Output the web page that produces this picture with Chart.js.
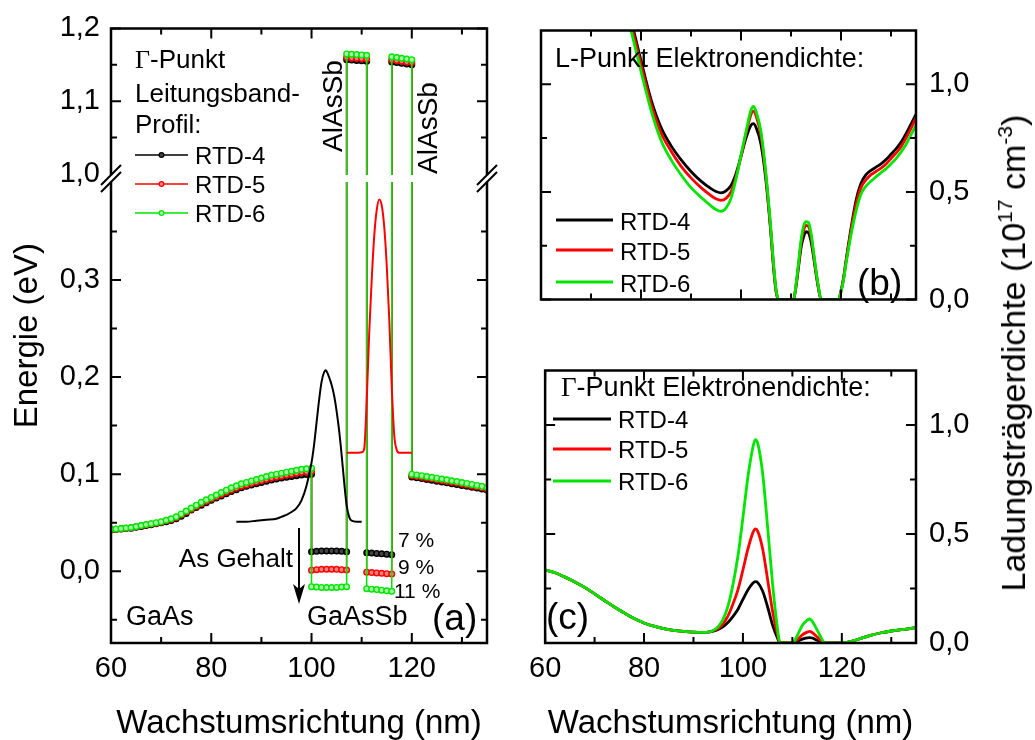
<!DOCTYPE html>
<html>
<head>
<meta charset="utf-8">
<script src="https://cdn.jsdelivr.net/npm/chart.js@4.4.1/dist/chart.umd.min.js"></script>
<style>
  html, body { margin: 0; padding: 0; background: #fff; }
  #wrap { position: relative; width: 1035px; height: 740px; overflow: hidden; font-family: 'Liberation Sans', Arial, sans-serif; }
  canvas { position: absolute; }
  #chartA { left: 0; top: 0; }
  #chartB { left: 520px; top: 0; }
  #chartC { left: 520px; top: 340px; }
  #yTitleRight {
    position: absolute; left: 1013px; top: 353px;
    transform: translate(-50%, -50%) rotate(-90deg);
    font-size: 34px; line-height: 1; white-space: nowrap; color: #000;
  }
  #yTitleRight sup { font-size: 0.62em; vertical-align: 0.62em; line-height: 0; }
</style>
</head>
<body>
<div id="wrap">
  <canvas id="chartA" width="520" height="740"></canvas>
  <canvas id="chartB" width="480" height="330"></canvas>
  <canvas id="chartC" width="480" height="400"></canvas>
  <div id="yTitleRight">Ladungsträgerdichte (10<sup>17</sup> cm<sup>-3</sup>)</div>
</div>
<script>
const FONT = "'Liberation Sans', Arial, sans-serif";
const SERIF = "'Liberation Serif', 'Times New Roman', serif";
const COLORS = { rtd4: '#000000', rtd5: '#ff0000', rtd6: '#00e600' };
const SERIES = ['RTD-4', 'RTD-5', 'RTD-6'];

// axis ticks
const xTicks = [60, 70, 80, 90, 100, 110, 120, 130];
const xTickLabels = [60, 80, 100, 120];
const energyTicks = [-0.05, 0, 0.05, 0.1, 0.15, 0.2, 0.25, 0.3, 0.35, 1.0, 1.05, 1.1, 1.15, 1.2];
const energyTickLabels = [0, 0.1, 0.2, 0.3, 1.0, 1.1, 1.2];
const densityTicks = [0, 0.25, 0.5, 0.75, 1.0];
const densityTickLabels = [0, 0.5, 1.0];

// (a) conduction band profile: GaAs | GaAsSb | AlAsSb | GaAsSb | AlAsSb | GaAs
const gaasLeftX = [60, 61, 62, 63, 64, 65, 66, 67, 68, 69, 70, 71, 72, 73, 74, 75, 76, 77, 78, 79, 80,
  81, 82, 83, 84, 85, 86, 87, 88, 89, 90, 91, 92, 93, 94, 95, 96, 97, 98, 99, 100];
const rtd4GaasLeft = [0.0425, 0.0430, 0.0434, 0.0439, 0.0443, 0.0452, 0.0461, 0.0470, 0.0479, 0.0488,
  0.0498, 0.0510, 0.0523, 0.0540, 0.0567, 0.0595, 0.0630, 0.0655, 0.0680, 0.0705,
  0.0730, 0.0753, 0.0775, 0.0798, 0.0820, 0.0840, 0.0860, 0.0874, 0.0887, 0.0901,
  0.0914, 0.0928, 0.0940, 0.0950, 0.0960, 0.0968, 0.0976, 0.0984, 0.0992, 0.0996, 0.1000];
const rtd5GaasLeft = [0.0428, 0.0433, 0.0438, 0.0443, 0.0448, 0.0457, 0.0467, 0.0476, 0.0486, 0.0495,
  0.0505, 0.0519, 0.0533, 0.0552, 0.0580, 0.0610, 0.0638, 0.0667, 0.0695, 0.0720,
  0.0743, 0.0767, 0.0790, 0.0814, 0.0837, 0.0856, 0.0875, 0.0889, 0.0905, 0.0919,
  0.0933, 0.0947, 0.0960, 0.0970, 0.0980, 0.0990, 0.1000, 0.1010, 0.1020, 0.1025, 0.1030];
const rtd6GaasLeft = [0.0430, 0.0435, 0.0440, 0.0445, 0.0450, 0.0460, 0.0470, 0.0480, 0.0490, 0.0500,
  0.0510, 0.0525, 0.0540, 0.0560, 0.0590, 0.0620, 0.0650, 0.0680, 0.0710, 0.0735,
  0.0760, 0.0785, 0.0810, 0.0835, 0.0860, 0.0880, 0.0900, 0.0915, 0.0930, 0.0945,
  0.0960, 0.0975, 0.0990, 0.1000, 0.1010, 0.1020, 0.1030, 0.1040, 0.1050, 0.1055, 0.1060];

const well1X = [100, 101, 102, 103, 104, 105, 106, 107];
const rtd4Well1 = [0.0200, 0.0205, 0.0208, 0.0209, 0.0209, 0.0208, 0.0205, 0.0200];
const rtd5Well1 = [0.0010, 0.0016, 0.0019, 0.0020, 0.0020, 0.0019, 0.0016, 0.0012];
const rtd6Well1 = [-0.0160, -0.0164, -0.0167, -0.0168, -0.0168, -0.0167, -0.0164, -0.0160];

const barrier1X = [107, 108, 109, 110, 111];
const rtd4Barrier1 = [1.157, 1.1565, 1.156, 1.1555, 1.155];
const rtd5Barrier1 = [1.160, 1.1595, 1.159, 1.1585, 1.158];
const rtd6Barrier1 = [1.165, 1.1645, 1.164, 1.1635, 1.163];

const well2X = [111, 112, 113, 114, 115, 116];
const rtd4Well2 = [0.0190, 0.0187, 0.0183, 0.0179, 0.0175, 0.0170];
const rtd5Well2 = [-0.0010, -0.0014, -0.0018, -0.0022, -0.0026, -0.0030];
const rtd6Well2 = [-0.0180, -0.0185, -0.0190, -0.0196, -0.0202, -0.0208];

const barrier2X = [116, 117, 118, 119, 120];
const rtd4Barrier2 = [1.154, 1.153, 1.152, 1.151, 1.150];
const rtd5Barrier2 = [1.157, 1.156, 1.155, 1.154, 1.153];
const rtd6Barrier2 = [1.161, 1.160, 1.159, 1.158, 1.157];

const gaasRightX = [120, 121, 122, 123, 124, 125, 126, 127, 128, 129, 130, 131, 132, 133, 134, 135];
const rtd4GaasRight = [0.0970, 0.0962, 0.0954, 0.0945, 0.0937, 0.0928, 0.0920, 0.0911, 0.0902, 0.0893,
  0.0884, 0.0875, 0.0866, 0.0856, 0.0846, 0.0836];
const rtd5GaasRight = [0.0985, 0.0977, 0.0969, 0.0960, 0.0952, 0.0943, 0.0935, 0.0926, 0.0917, 0.0908,
  0.0898, 0.0889, 0.0879, 0.0869, 0.0859, 0.0848];
const rtd6GaasRight = [0.1000, 0.0992, 0.0984, 0.0975, 0.0967, 0.0958, 0.0950, 0.0941, 0.0932, 0.0923,
  0.0913, 0.0904, 0.0894, 0.0884, 0.0874, 0.0863];

// (a) bound state densities drawn on the energy scale
const psi4X = [85, 87, 89, 91, 93, 94, 95, 96, 97, 98, 99, 100, 100.5, 101, 101.5, 102, 102.5, 102.8,
  103, 103.5, 104, 104.5, 105, 105.5, 106, 106.5, 107, 107.5, 108, 109, 110];
const psi4Y = [0.051, 0.051, 0.052, 0.053, 0.054, 0.056, 0.058, 0.061, 0.065, 0.073, 0.088, 0.112, 0.130,
  0.153, 0.176, 0.195, 0.205, 0.207, 0.206, 0.200, 0.192, 0.181, 0.165, 0.145, 0.120, 0.092, 0.068,
  0.056, 0.052, 0.051, 0.051];
const psi5X = [107, 108, 109, 110, 110.5, 111, 111.5, 112, 112.5, 113, 113.5, 114, 114.5, 115, 115.5,
  116, 116.5, 117, 117.5, 118, 119, 120];
const psi5Y = [0.122, 0.122, 0.122, 0.1225, 0.126, 0.175, 0.245, 0.300, 0.345, 0.372, 0.383, 0.377,
  0.355, 0.315, 0.260, 0.190, 0.140, 0.125, 0.122, 0.122, 0.122, 0.122];

// (b) L-point electron density
const lPointX = [70, 72, 74, 76, 78, 80, 82, 84, 86, 88, 90, 92, 94, 95, 96, 97, 98, 99, 100, 101,
  102, 102.5, 103, 104, 105, 106, 106.5, 107, 107.5, 108, 109, 110, 110.5, 111, 111.5, 112, 112.5, 113,
  113.5, 114, 114.5, 115, 115.5, 116, 117, 118, 119, 119.5, 120, 120.5, 121, 122, 123, 124, 125, 126,
  127, 128, 129, 130, 131, 132, 133, 134, 135];
const rtd4LPoint = [2.20, 1.95, 1.72, 1.50, 1.30, 1.11, 0.93, 0.80, 0.715, 0.65, 0.595, 0.55, 0.515,
  0.502, 0.496, 0.505, 0.53, 0.585, 0.665, 0.75, 0.81, 0.817, 0.80, 0.72, 0.55, 0.30, 0.15, 0.04, 0, 0,
  0, 0, 0, 0.06, 0.15, 0.24, 0.29, 0.315, 0.31, 0.27, 0.20, 0.12, 0.05, 0, 0, 0, 0, 0, 0.04, 0.10, 0.18,
  0.33, 0.46, 0.54, 0.58, 0.60, 0.615, 0.63, 0.65, 0.675, 0.70, 0.73, 0.77, 0.815, 0.86];
const rtd5LPoint = [2.18, 1.93, 1.70, 1.48, 1.28, 1.09, 0.91, 0.775, 0.69, 0.62, 0.565, 0.52, 0.483,
  0.468, 0.461, 0.47, 0.50, 0.57, 0.665, 0.77, 0.86, 0.875, 0.855, 0.76, 0.57, 0.31, 0.16, 0.045, 0, 0,
  0, 0, 0, 0.065, 0.16, 0.26, 0.32, 0.345, 0.34, 0.295, 0.215, 0.13, 0.055, 0, 0, 0, 0, 0, 0.04, 0.095,
  0.175, 0.32, 0.44, 0.52, 0.556, 0.58, 0.595, 0.61, 0.63, 0.655, 0.68, 0.71, 0.75, 0.795, 0.845];
const rtd6LPoint = [2.15, 1.90, 1.67, 1.45, 1.25, 1.06, 0.88, 0.74, 0.65, 0.58, 0.52, 0.475, 0.435,
  0.418, 0.41, 0.425, 0.47, 0.56, 0.67, 0.78, 0.88, 0.897, 0.875, 0.78, 0.58, 0.32, 0.17, 0.05, 0, 0,
  0, 0, 0, 0.07, 0.17, 0.275, 0.34, 0.362, 0.358, 0.31, 0.225, 0.135, 0.06, 0, 0, 0, 0, 0, 0.035, 0.09,
  0.165, 0.30, 0.41, 0.49, 0.527, 0.55, 0.57, 0.59, 0.607, 0.63, 0.655, 0.685, 0.72, 0.765, 0.81];

// (c) Gamma-point electron density
const gammaX = [60, 62, 64, 66, 68, 70, 72, 74, 76, 78, 80, 82, 84, 86, 88, 90, 92, 93, 94, 95, 96, 97,
  98, 99, 100, 101, 102, 102.5, 103, 104, 105, 106, 107, 107.5, 108, 109, 110, 110.5, 111, 112, 113,
  113.5, 114, 115, 116, 116.5, 118, 119.5, 120, 121, 122, 123, 124, 126, 128, 130, 132, 134, 135];
const rtd4Gamma = [0.335, 0.322, 0.302, 0.280, 0.255, 0.225, 0.195, 0.165, 0.138, 0.112, 0.092, 0.077,
  0.066, 0.058, 0.053, 0.050, 0.049, 0.050, 0.054, 0.062, 0.075, 0.095, 0.122, 0.155, 0.200, 0.243,
  0.274, 0.281, 0.277, 0.237, 0.165, 0.082, 0.022, 0, 0, 0, 0, 0.003, 0.008, 0.018, 0.024, 0.025,
  0.023, 0.013, 0.003, 0, 0, 0, 0, 0.003, 0.008, 0.015, 0.022, 0.036, 0.047, 0.055, 0.061, 0.067, 0.071];
const rtd5Gamma = [0.335, 0.322, 0.302, 0.280, 0.255, 0.225, 0.195, 0.165, 0.138, 0.112, 0.092, 0.077,
  0.066, 0.058, 0.053, 0.050, 0.049, 0.050, 0.056, 0.067, 0.088, 0.125, 0.180, 0.245, 0.335, 0.430,
  0.505, 0.523, 0.512, 0.430, 0.290, 0.145, 0.038, 0, 0, 0, 0, 0.005, 0.015, 0.037, 0.050, 0.053,
  0.048, 0.028, 0.006, 0, 0, 0, 0, 0.003, 0.008, 0.015, 0.022, 0.036, 0.047, 0.055, 0.061, 0.067, 0.071];
const rtd6Gamma = [0.335, 0.322, 0.302, 0.280, 0.255, 0.225, 0.195, 0.165, 0.138, 0.112, 0.092, 0.077,
  0.066, 0.058, 0.053, 0.050, 0.049, 0.050, 0.058, 0.075, 0.110, 0.170, 0.270, 0.400, 0.575, 0.760,
  0.895, 0.933, 0.915, 0.775, 0.530, 0.270, 0.065, 0, 0, 0, 0, 0.012, 0.035, 0.080, 0.105, 0.110,
  0.100, 0.060, 0.016, 0, 0, 0, 0, 0.003, 0.008, 0.015, 0.022, 0.036, 0.047, 0.055, 0.061, 0.067, 0.071];

const toPoints = (xs, ys) => xs.map((x, i) => ({ x: x, y: ys[i] }));
const joinSections = parts => parts.flatMap(([xs, ys]) => toPoints(xs, ys));
const deComma = v => v.toFixed(1).replace('.', ',');
const hasTick = (list, v) => list.some(t => Math.abs(t - v) < 1e-9);

const profile4 = joinSections([[gaasLeftX, rtd4GaasLeft], [well1X, rtd4Well1], [barrier1X, rtd4Barrier1],
  [well2X, rtd4Well2], [barrier2X, rtd4Barrier2], [gaasRightX, rtd4GaasRight]]);
const profile5 = joinSections([[gaasLeftX, rtd5GaasLeft], [well1X, rtd5Well1], [barrier1X, rtd5Barrier1],
  [well2X, rtd5Well2], [barrier2X, rtd5Barrier2], [gaasRightX, rtd5GaasRight]]);
const profile6 = joinSections([[gaasLeftX, rtd6GaasLeft], [well1X, rtd6Well1], [barrier1X, rtd6Barrier1],
  [well2X, rtd6Well2], [barrier2X, rtd6Barrier2], [gaasRightX, rtd6GaasRight]]);

// linear scale with a jump between breakRange[0] and breakRange[1]
class BrokenLinearScale extends Chart.LinearScale {
  getPixelForValue(value) {
    if (value === null || value === undefined || isNaN(value)) return NaN;
    const [lo, hi] = this.options.breakRange;
    const [lowPx, gapPx] = this.options.breakPixels;
    const yLo = this.bottom - lowPx;
    const yHi = yLo - gapPx;
    if (value <= lo) return this.bottom - (value - this.min) / (lo - this.min) * lowPx;
    if (value >= hi) return yHi - (value - hi) / (this.max - hi) * (yHi - this.top);
    return yLo - (value - lo) / (hi - lo) * gapPx;
  }
  getValueForPixel(pixel) {
    const [lo, hi] = this.options.breakRange;
    const [lowPx, gapPx] = this.options.breakPixels;
    const yLo = this.bottom - lowPx;
    const yHi = yLo - gapPx;
    if (pixel >= yLo) return this.min + (this.bottom - pixel) / lowPx * (lo - this.min);
    if (pixel <= yHi) return hi + (yHi - pixel) / (yHi - this.top) * (this.max - hi);
    return lo + (yLo - pixel) / gapPx * (hi - lo);
  }
}
BrokenLinearScale.id = 'brokenLinear';
BrokenLinearScale.defaults = Chart.LinearScale.defaults;
Chart.register(BrokenLinearScale);

// box with inward ticks on all four sides (and the axis break marks)
const framePlugin = {
  id: 'frame',
  afterDatasetsDraw(chart, args, opts) {
    const { ctx, chartArea: a } = chart;
    const x = chart.scales.x, y = chart.scales.y;
    ctx.save();
    ctx.strokeStyle = '#000';
    let gapTop = null, gapBot = null;
    if (opts.breakAt) {
      gapTop = y.getPixelForValue(opts.breakAt[1]);
      gapBot = y.getPixelForValue(opts.breakAt[0]);
      ctx.fillStyle = '#fff';
      ctx.fillRect(a.left - 3, gapTop + 1, a.right - a.left + 6, gapBot - gapTop - 2);
    }
    ctx.lineWidth = 2;
    ctx.beginPath();
    x.ticks.forEach(t => {
      const px = x.getPixelForValue(t.value);
      const len = hasTick(opts.xMajor, t.value) ? 10 : 6;
      ctx.moveTo(px, a.bottom); ctx.lineTo(px, a.bottom - len);
      ctx.moveTo(px, a.top); ctx.lineTo(px, a.top + len);
    });
    y.ticks.forEach(t => {
      if (opts.breakAt && Math.abs(t.value - opts.breakAt[1]) < 1e-9) return;
      const py = y.getPixelForValue(t.value);
      const len = hasTick(opts.yMajor, t.value) ? 10 : 6;
      ctx.moveTo(a.left, py); ctx.lineTo(a.left + len, py);
      ctx.moveTo(a.right, py); ctx.lineTo(a.right - len, py);
    });
    ctx.stroke();

    ctx.lineWidth = 2.5;
    ctx.lineCap = 'square';
    ctx.beginPath();
    ctx.moveTo(a.left, a.top); ctx.lineTo(a.right, a.top);
    ctx.moveTo(a.left, a.bottom); ctx.lineTo(a.right, a.bottom);
    [a.left, a.right].forEach(px => {
      if (gapTop !== null) {
        ctx.moveTo(px, a.top); ctx.lineTo(px, gapTop);
        ctx.moveTo(px, gapBot); ctx.lineTo(px, a.bottom);
      } else {
        ctx.moveTo(px, a.top); ctx.lineTo(px, a.bottom);
      }
    });
    ctx.stroke();

    if (gapTop !== null) {
      ctx.lineWidth = 2;
      ctx.lineCap = 'butt';
      ctx.beginPath();
      [a.left, a.right].forEach(px => {
        [gapTop + 1, gapBot - 1].forEach(py => {
          ctx.moveTo(px - 10, py + 10); ctx.lineTo(px + 10, py - 10);
        });
      });
      ctx.stroke();
    }
    ctx.restore();
  }
};

function drawText(ctx, str, x, y, size, opt) {
  opt = opt || {};
  ctx.save();
  ctx.font = size + 'px ' + (opt.family || FONT);
  ctx.fillStyle = '#000';
  ctx.textAlign = opt.align || 'left';
  ctx.textBaseline = 'alphabetic';
  ctx.translate(x, y);
  if (opt.rotate) ctx.rotate(opt.rotate);
  ctx.fillText(str, 0, 0);
  const w = ctx.measureText(str).width;
  ctx.restore();
  return w;
}

function gammaHeading(ctx, rest, x, y, size) {
  const w = drawText(ctx, 'Γ', x, y, size, { family: SERIF });
  drawText(ctx, rest, x + w, y, size);
}

function legendRow(ctx, color, x0, x1, yLine, label, yText, lineWidth, marker) {
  ctx.save();
  ctx.strokeStyle = color;
  ctx.lineWidth = lineWidth;
  ctx.beginPath();
  ctx.moveTo(x0, yLine); ctx.lineTo(x1, yLine);
  ctx.stroke();
  if (marker) {
    ctx.fillStyle = marker;
    ctx.lineWidth = 1.2;
    ctx.beginPath();
    ctx.arc((x0 + x1) / 2, yLine, 2.4, 0, Math.PI * 2);
    ctx.fill(); ctx.stroke();
  }
  ctx.restore();
  drawText(ctx, label, x1 + 7, yText, 24);
}

const markerFill = { rtd4: '#444444', rtd5: '#ff8080', rtd6: '#a8ffa8' };

function profileSet(key, data) {
  return {
    data: data, borderColor: COLORS[key], borderWidth: 1.5, tension: 0,
    pointRadius: 2.8, pointBorderWidth: 1.4, pointBorderColor: COLORS[key],
    pointBackgroundColor: markerFill[key], pointHoverRadius: 2.8
  };
}
function curveSet(key, data, width) {
  return {
    data: data, borderColor: COLORS[key], borderWidth: width,
    cubicInterpolationMode: 'monotone', pointRadius: 0, pointHoverRadius: 0
  };
}

const commonOpts = {
  responsive: false, animation: false, devicePixelRatio: 1,
  events: []
};
const tickFont = { family: FONT, size: 29, lineHeight: 1.2 };
const titleFont = { family: FONT, size: 33, lineHeight: 1 };

// (a) band profile
const annotationsA = {
  id: 'annotationsA',
  afterDraw(chart) {
    const ctx = chart.ctx;
    gammaHeading(ctx, '-Punkt', 135, 68, 26);
    drawText(ctx, 'Leitungsband-', 135, 102, 26);
    drawText(ctx, 'Profil:', 135, 133, 26);
    legendRow(ctx, COLORS.rtd4, 135, 188, 155, SERIES[0], 164, 1.5, markerFill.rtd4);
    legendRow(ctx, COLORS.rtd5, 135, 188, 184, SERIES[1], 193, 1.5, markerFill.rtd5);
    legendRow(ctx, COLORS.rtd6, 135, 188, 213, SERIES[2], 222, 1.5, markerFill.rtd6);

    drawText(ctx, 'AlAsSb', 342, 106, 28, { align: 'center', rotate: -Math.PI / 2 });
    drawText(ctx, 'AlAsSb', 437, 128, 28, { align: 'center', rotate: -Math.PI / 2 });

    drawText(ctx, 'GaAs', 126, 625, 27);
    drawText(ctx, 'GaAsSb', 307, 625, 27);
    drawText(ctx, '(a)', 432, 630, 37);
    drawText(ctx, 'As Gehalt', 293, 567, 26, { align: 'right' });
    drawText(ctx, '7 %', 398, 547, 21);
    drawText(ctx, '9 %', 398, 574, 21);
    drawText(ctx, '11 %', 394, 598, 21);

    // arrow for increasing As content
    ctx.save();
    ctx.strokeStyle = '#000';
    ctx.fillStyle = '#000';
    ctx.lineWidth = 2;
    ctx.beginPath();
    ctx.moveTo(299, 528); ctx.lineTo(299, 592);
    ctx.stroke();
    ctx.beginPath();
    ctx.moveTo(299, 604); ctx.lineTo(293, 584); ctx.lineTo(299, 589); ctx.lineTo(305, 584);
    ctx.closePath();
    ctx.fill();
    ctx.restore();
  }
};

new Chart(document.getElementById('chartA'), {
  type: 'line',
  data: {
    datasets: [
      curveSet('rtd4', toPoints(psi4X, psi4Y), 2),
      curveSet('rtd5', toPoints(psi5X, psi5Y), 2),
      profileSet('rtd6', profile6),
      profileSet('rtd5', profile5),
      profileSet('rtd4', profile4)
    ]
  },
  options: Object.assign({}, commonOpts, {
    layout: { padding: { left: 0, top: 25, right: 33, bottom: 0 } },
    plugins: {
      legend: { display: false }, tooltip: { enabled: false },
      frame: { breakAt: [0.40, 1.0], xMajor: xTickLabels, yMajor: energyTickLabels }
    },
    scales: {
      x: {
        type: 'linear', min: 60, max: 135,
        afterBuildTicks: s => { s.ticks = xTicks.map(v => ({ value: v })); },
        afterFit: s => { s.height = 97; },
        grid: { display: false, drawTicks: false }, border: { display: false },
        ticks: { autoSkip: false, maxRotation: 0, padding: 9, color: '#000', font: tickFont,
          callback: v => hasTick(xTickLabels, v) ? String(v) : '' },
        title: { display: true, text: 'Wachstumsrichtung (nm)', color: '#000', font: titleFont, padding: { top: 0, bottom: 0 } }
      },
      y: {
        type: 'brokenLinear', min: -0.074, max: 1.2,
        breakRange: [0.40, 1.0], breakPixels: [460, 9],
        afterBuildTicks: s => { s.ticks = energyTicks.map(v => ({ value: v })); },
        afterFit: s => { s.width = 111; },
        grid: { display: false, drawTicks: false }, border: { display: false },
        ticks: { autoSkip: false, padding: 11, color: '#000', font: tickFont,
          callback: v => hasTick(energyTickLabels, v) ? deComma(v) : '' },
        title: { display: true, text: 'Energie (eV)', color: '#000', font: titleFont, padding: { top: 11, bottom: 0 } }
      }
    }
  }),
  plugins: [framePlugin, annotationsA]
});

// (b) L-point density
const annotationsB = {
  id: 'annotationsB',
  afterDraw(chart) {
    const ctx = chart.ctx;
    drawText(ctx, 'L-Punkt Elektronendichte:', 35, 67, 27);
    legendRow(ctx, COLORS.rtd4, 36, 93, 220, SERIES[0], 230, 3);
    legendRow(ctx, COLORS.rtd5, 36, 93, 250, SERIES[1], 260, 3);
    legendRow(ctx, COLORS.rtd6, 36, 93, 282, SERIES[2], 292, 3);
    drawText(ctx, '(b)', 337, 295, 37);
  }
};

function densityY(width) {
  return {
    type: 'linear', position: 'right', min: 0, max: 1.25,
    afterBuildTicks: s => { s.ticks = densityTicks.map(v => ({ value: v })); },
    afterFit: s => { s.width = width; },
    grid: { display: false, drawTicks: false }, border: { display: false },
    ticks: { autoSkip: false, padding: 13, color: '#000', font: tickFont,
      callback: v => hasTick(densityTickLabels, v) ? deComma(v) : '' }
  };
}

new Chart(document.getElementById('chartB'), {
  type: 'line',
  data: {
    datasets: [
      curveSet('rtd6', toPoints(lPointX, rtd6LPoint), 2.8),
      curveSet('rtd5', toPoints(lPointX, rtd5LPoint), 2.8),
      curveSet('rtd4', toPoints(lPointX, rtd4LPoint), 2.8)
    ]
  },
  options: Object.assign({}, commonOpts, {
    layout: { padding: { left: 21, top: 25, right: 0, bottom: 0 } },
    plugins: {
      legend: { display: false }, tooltip: { enabled: false },
      frame: { xMajor: xTickLabels, yMajor: densityTickLabels }
    },
    scales: {
      x: {
        type: 'linear', min: 60, max: 135,
        afterBuildTicks: s => { s.ticks = xTicks.map(v => ({ value: v })); },
        afterFit: s => { s.height = 17; },
        grid: { display: false, drawTicks: false }, border: { display: false },
        ticks: { display: false }
      },
      y: densityY(84)
    }
  }),
  plugins: [framePlugin, annotationsB]
});

// (c) Gamma-point density
const annotationsC = {
  id: 'annotationsC',
  afterDraw(chart) {
    const ctx = chart.ctx;
    gammaHeading(ctx, '-Punkt Elektronendichte:', 41, 56, 27);
    legendRow(ctx, COLORS.rtd4, 33, 91, 79, SERIES[0], 88, 3);
    legendRow(ctx, COLORS.rtd5, 33, 91, 109, SERIES[1], 118, 3);
    legendRow(ctx, COLORS.rtd6, 33, 91, 141, SERIES[2], 150, 3);
    drawText(ctx, '(c)', 26, 289, 37);
  }
};

new Chart(document.getElementById('chartC'), {
  type: 'line',
  data: {
    datasets: [
      curveSet('rtd6', toPoints(gammaX, rtd6Gamma), 2.8),
      curveSet('rtd5', toPoints(gammaX, rtd5Gamma), 2.8),
      curveSet('rtd4', toPoints(gammaX, rtd4Gamma), 2.8)
    ]
  },
  options: Object.assign({}, commonOpts, {
    layout: { padding: { left: 21, top: 15, right: 0, bottom: 0 } },
    plugins: {
      legend: { display: false }, tooltip: { enabled: false },
      frame: { xMajor: xTickLabels, yMajor: densityTickLabels }
    },
    scales: {
      x: {
        type: 'linear', min: 60, max: 135,
        afterBuildTicks: s => { s.ticks = xTicks.map(v => ({ value: v })); },
        afterFit: s => { s.height = 97; },
        grid: { display: false, drawTicks: false }, border: { display: false },
        ticks: { autoSkip: false, maxRotation: 0, padding: 9, color: '#000', font: tickFont,
          callback: v => hasTick(xTickLabels, v) ? String(v) : '' },
        title: { display: true, text: 'Wachstumsrichtung (nm)', color: '#000', font: titleFont, padding: { top: 0, bottom: 0 } }
      },
      y: densityY(84)
    }
  }),
  plugins: [framePlugin, annotationsC]
});
</script>
</body>
</html>
